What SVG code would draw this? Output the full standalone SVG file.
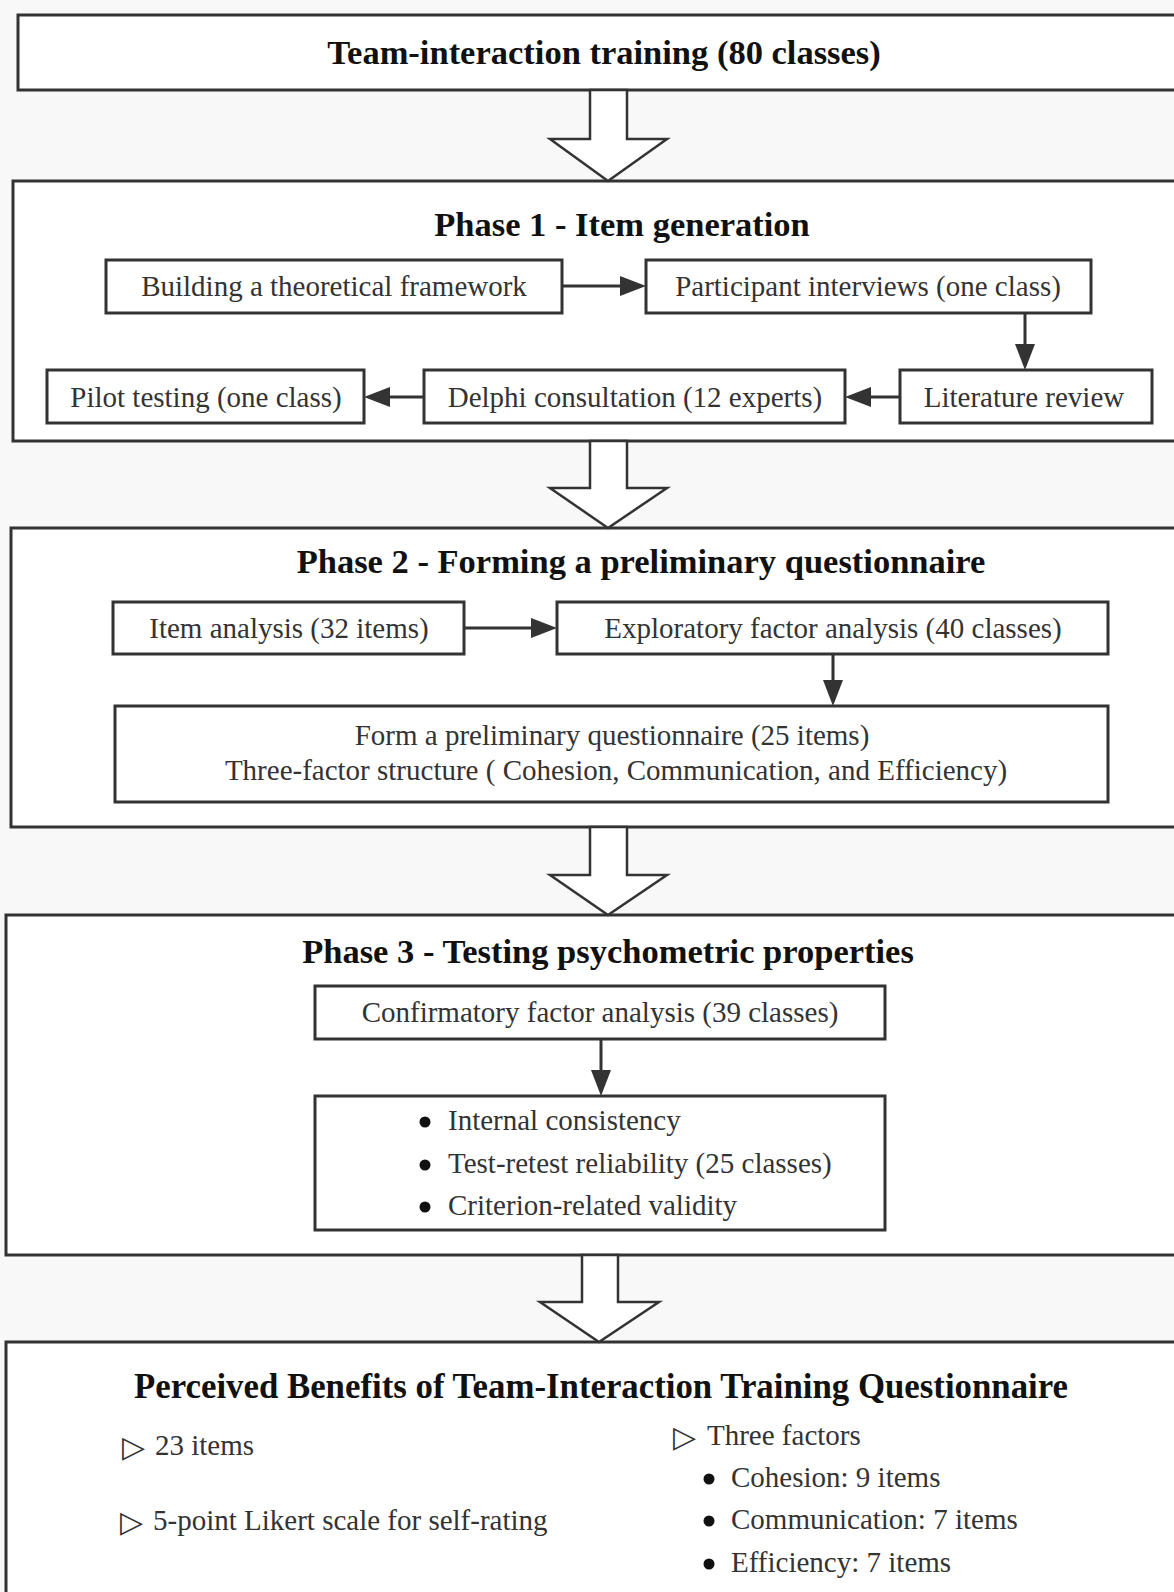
<svg xmlns="http://www.w3.org/2000/svg" width="1174" height="1592" viewBox="0 0 1174 1592">
<defs>
<style>
.bg{fill:#f8f8f8}
.phase{fill:#fff;stroke:#333;stroke-width:3}
.node{fill:#fff;stroke:#333;stroke-width:3}
.big{fill:#fff;stroke:#333;stroke-width:2.5;stroke-linejoin:miter}
.conn{stroke:#333;stroke-width:3;fill:none}
.h{font-family:"Liberation Serif","Times New Roman",serif;font-weight:bold;font-size:34.5px;fill:#111;text-anchor:middle}
.t{font-family:"Liberation Serif","Times New Roman",serif;font-size:29px;fill:#333;text-anchor:middle}
.l{font-family:"Liberation Serif","Times New Roman",serif;font-size:29px;fill:#333}
.tri{font-family:"DejaVu Sans",sans-serif;font-size:30px;fill:#333}
.dot{fill:#111}
</style>
<marker id="ah" viewBox="0 0 26 20" refX="16" refY="10" markerWidth="26" markerHeight="20" markerUnits="userSpaceOnUse" orient="auto">
<path d="M0,0 L26,10 L0,20 z" fill="#333"/>
</marker>
</defs>
<rect class="bg" x="0" y="0" width="1174" height="1592"/>

<g id="top">
<rect class="phase" x="18" y="15" width="1170" height="75"/>
<text class="h" x="604" y="64">Team-interaction training (80 classes)</text>
</g>

<g id="phase1">
<rect class="phase" x="13" y="181" width="1175" height="260"/>
<text class="h" x="622" y="236">Phase 1 - Item generation</text>
</g>
<g id="building">
<rect class="node" x="106" y="260" width="456" height="53"/>
<text class="t" x="334" y="296">Building a theoretical framework</text>
</g>
<g id="participant">
<rect class="node" x="646" y="260" width="445" height="53"/>
<text class="t" x="868" y="296">Participant interviews (one class)</text>
</g>
<g id="literature">
<rect class="node" x="900" y="370" width="252" height="53"/>
<text class="t" x="1024" y="407">Literature review</text>
</g>
<g id="delphi">
<rect class="node" x="424" y="370" width="421" height="53"/>
<text class="t" x="635" y="407">Delphi consultation (12 experts)</text>
</g>
<g id="pilot">
<rect class="node" x="47" y="370" width="317" height="53"/>
<text class="t" x="206" y="407">Pilot testing (one class)</text>
</g>

<g id="phase2">
<rect class="phase" x="11" y="528" width="1177" height="299"/>
<text class="h" x="641" y="573">Phase 2 - Forming a preliminary questionnaire</text>
</g>
<g id="itemanalysis">
<rect class="node" x="113" y="602" width="351" height="52"/>
<text class="t" x="289" y="638">Item analysis (32 items)</text>
</g>
<g id="efa">
<rect class="node" x="557" y="602" width="551" height="52"/>
<text class="t" x="833" y="638">Exploratory factor analysis (40 classes)</text>
</g>
<g id="form">
<rect class="node" x="115" y="706" width="993" height="96"/>
<text class="t" x="612" y="745">Form a preliminary questionnaire (25 items)</text>
<text class="t" x="616" y="780">Three-factor structure ( Cohesion, Communication, and Efficiency)</text>
</g>

<g id="phase3">
<rect class="phase" x="6" y="915" width="1182" height="340"/>
<text class="h" x="608" y="963">Phase 3 - Testing psychometric properties</text>
</g>
<g id="cfa">
<rect class="node" x="315" y="986" width="570" height="53"/>
<text class="t" x="600" y="1022">Confirmatory factor analysis (39 classes)</text>
</g>
<g id="properties">
<rect class="node" x="315" y="1096" width="570" height="134"/>
<circle class="dot" cx="425" cy="1122" r="5.5"/>
<text class="l" x="448" y="1130">Internal consistency</text>
<circle class="dot" cx="425" cy="1165" r="5.5"/>
<text class="l" x="448" y="1173">Test-retest reliability (25 classes)</text>
<circle class="dot" cx="425" cy="1207" r="5.5"/>
<text class="l" x="448" y="1215">Criterion-related validity</text>
</g>

<g id="result">
<rect class="phase" x="6" y="1342" width="1182" height="270"/>
<text class="h" x="601" y="1398" style="font-size:34.8px">Perceived Benefits of Team-Interaction Training Questionnaire</text>
<text class="tri" x="122" y="1457">▷</text>
<text class="l" x="155" y="1455">23 items</text>
<text class="tri" x="120" y="1532">▷</text>
<text class="l" x="153" y="1530">5-point Likert scale for self-rating</text>
<text class="tri" x="673" y="1447">▷</text>
<text class="l" x="707" y="1445">Three factors</text>
<circle class="dot" cx="709" cy="1479" r="5.5"/>
<text class="l" x="731" y="1487">Cohesion: 9 items</text>
<circle class="dot" cx="709" cy="1521" r="5.5"/>
<text class="l" x="731" y="1529">Communication: 7 items</text>
<circle class="dot" cx="709" cy="1564" r="5.5"/>
<text class="l" x="731" y="1572">Efficiency: 7 items</text>
</g>

<g id="connectors">
<polygon class="big" points="590,90 590,139 550,139 608,181 667,139 627,139 627,90"/>
<polygon class="big" points="590,441 590,488 550,488 608,528 667,488 627,488 627,441"/>
<polygon class="big" points="590,827 590,875 550,875 608,915 667,875 627,875 627,827"/>
<polygon class="big" points="582,1255 582,1302 540,1302 599,1342 659,1302 618,1302 618,1255"/>
<line class="conn" x1="562" y1="286" x2="636" y2="286" marker-end="url(#ah)"/>
<line class="conn" x1="1025" y1="313" x2="1025" y2="360" marker-end="url(#ah)"/>
<line class="conn" x1="900" y1="397" x2="855" y2="397" marker-end="url(#ah)"/>
<line class="conn" x1="424" y1="397" x2="374" y2="397" marker-end="url(#ah)"/>
<line class="conn" x1="464" y1="628" x2="547" y2="628" marker-end="url(#ah)"/>
<line class="conn" x1="833" y1="654" x2="833" y2="696" marker-end="url(#ah)"/>
<line class="conn" x1="601" y1="1039" x2="601" y2="1086" marker-end="url(#ah)"/>
</g>
</svg>
